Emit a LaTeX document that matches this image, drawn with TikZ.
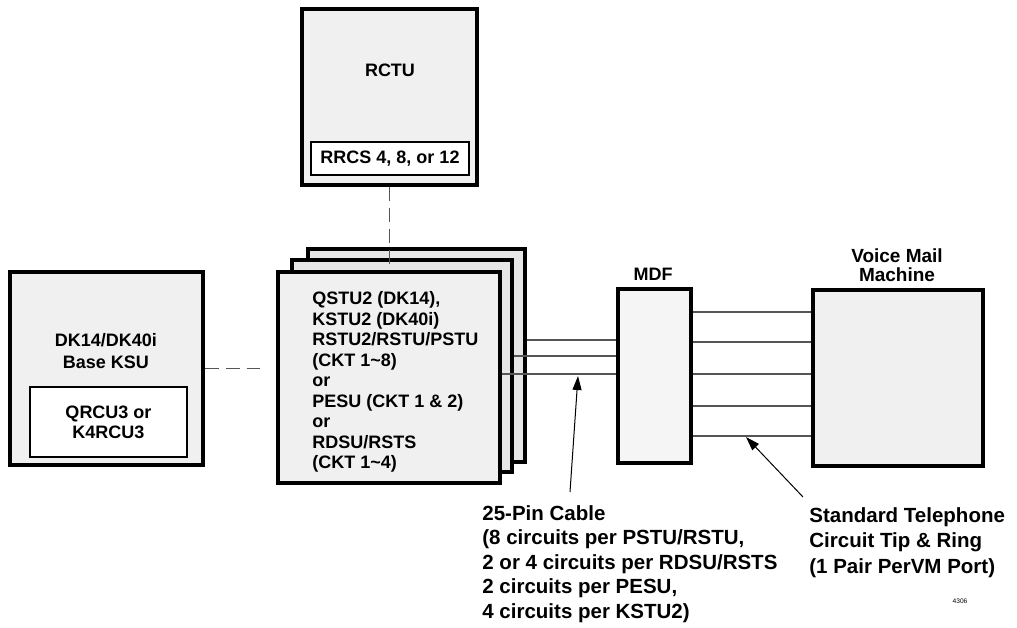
\documentclass[tikz,border=0pt]{standalone}
\usepackage{fontspec}
\setmainfont{Liberation Sans}
\usetikzlibrary{positioning, arrows.meta}
\definecolor{panel}{HTML}{F0F0F0}
\definecolor{stackgray}{HTML}{E6E6E6}
\definecolor{mdfgray}{HTML}{F5F5F5}
\definecolor{wiregray}{HTML}{555555}

\begin{document}
\begin{tikzpicture}[
  x=0.5pt, y=-0.5pt,
  every node/.style={inner sep=0pt},
  unit/.style n args={1}{
    rectangle, draw=black, fill=#1, line width=1.6pt
  },
  card/.style={
    rectangle, draw=black, fill=white, line width=1.2pt,
    align=center, font=\bfseries\fontsize{9}{10}\selectfont
  },
  txt/.style={align=center, font=\bfseries\fontsize{9}{#1}\selectfont},
  note/.style={align=left, font=\bfseries\fontsize{10.25}{#1}\selectfont},
  wire/.style={line width=0.6pt, color=wiregray},
  link/.style={line width=0.7pt, color=wiregray, dash pattern=on 7pt off 3.5pt},
  pointer/.style={
    line width=0.5pt, -{Triangle[length=7pt, width=4.5pt]}, color=black
  }
]
\useasboundingbox (0,0) rectangle (1017,627);

%% === RCTU (top) ===
\node[unit={panel}, minimum width=87.5pt, minimum height=88pt] (rctu) at (389.5,97) {};
\node[txt=10] (rctulbl) at (390,70) {RCTU};
\node[card, minimum width=79pt, minimum height=16.5pt] (rrcs) at (390,158.5) {RRCS 4, 8, or 12};

%% === BASE KSU (left) ===
\node[unit={panel}, minimum width=96.5pt, minimum height=96.5pt] (ksu) at (106.5,368.5) {};
\node[txt=11] (ksulbl) at (106,351) {DK14/DK40i\\Base KSU};
\node[card, minimum width=78.5pt, minimum height=35pt] (qrcu) at (108.5,422) {QRCU3 or\\K4RCU3};

%% === STACKED STATION CARDS ===
\node[unit={stackgray}, minimum width=108.5pt, minimum height=106.5pt] (stackC) at (416.5,355.5) {};
\node[unit={stackgray}, minimum width=110pt, minimum height=106pt] (stackB) at (402,366) {};
\node[unit={panel}, minimum width=111pt, minimum height=105.5pt] (stackA) at (389,377.5) {};
\node[txt=10.25, align=left, anchor=west] (stacktxt) at (312,382)
  {QSTU2 (DK14),\\KSTU2 (DK40i)\\RSTU2/RSTU/PSTU\\(CKT 1\textasciitilde 8)\\or\\
   PESU (CKT 1 \& 2)\\or\\RDSU/RSTS\\(CKT 1\textasciitilde 4)};

%% === MDF and VOICE MAIL ===
\node[unit={mdfgray}, minimum width=36.5pt, minimum height=87pt] (mdf) at (654.5,376) {};
\node[txt=10] (mdflbl) at (653,274) {MDF};
\node[unit={panel}, minimum width=85pt, minimum height=88pt] (vm) at (898,378) {};
\node[txt=9.5, font=\bfseries\fontsize{9.5}{9.5}\selectfont] (vmlbl) at (897,265.5) {Voice Mail\\Machine};

%% === DASHED LINKS ===
\draw[link] (ksu.east) -- (ksu.east -| stackA.west) [shorten >=8pt];
\draw[link, shorten >=2.5pt] (rctu.south) -- (rctu.south |- stackA.north);

%% === 25-PIN CABLE WIRES ===
\draw[wire] (stackC.east |- 0,340) -- (mdf.west |- 0,340);
\draw[wire] (stackB.east |- 0,356) -- (mdf.west |- 0,356);
\draw[wire] (stackA.east |- 0,374) -- (mdf.west |- 0,374);

%% === TIP & RING PAIRS ===
\foreach \yy in {312,342,374,406,436}
  \draw[wire] (mdf.east |- 0,\yy) -- (vm.west |- 0,\yy);

%% === CALLOUTS ===
\coordinate (cabletail) at (570,492);
\coordinate (cabletip) at (578,376);
\draw[pointer] (cabletail) -- (cabletip);
\coordinate (pairtail) at (803,497);
\coordinate (pairtip) at (746,437);
\draw[pointer] (pairtail) -- (pairtip);

\node[note=12.25, anchor=west] (cablelbl) at (482,564)
  {25-Pin Cable\\(8 circuits per PSTU/RSTU,\\2 or 4 circuits per RDSU/RSTS\\
   2 circuits per PESU,\\4 circuits per KSTU2)};
\node[note=12.75, anchor=west] (pairlbl) at (809,542.5)
  {Standard Telephone\\Circuit Tip \& Ring\\(1 Pair PerVM Port)};

\node[font=\fontsize{3.3}{4}\selectfont] (fignum) at (960,601) {4306};

\end{tikzpicture}
\end{document}
